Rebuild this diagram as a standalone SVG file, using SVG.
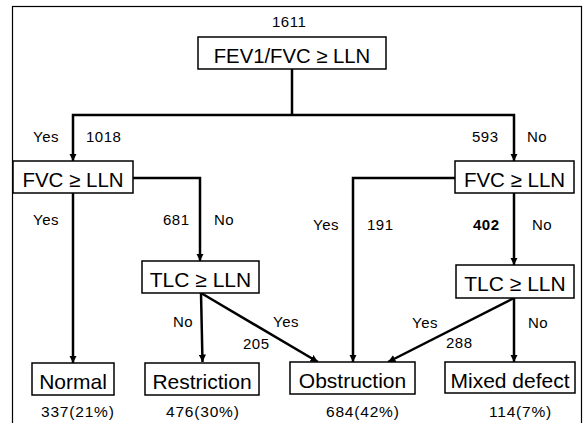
<svg xmlns="http://www.w3.org/2000/svg" width="585" height="423" viewBox="0 0 585 423">
<defs>
<marker id="ah" viewBox="0 0 10 10" refX="10" refY="5" markerWidth="3" markerHeight="3" orient="auto" markerUnits="strokeWidth">
<path d="M0,0 L10,5 L0,10 Z" fill="#000"/>
</marker>
<style>
.box{fill:#fff;stroke:#000;stroke-width:1.5}
.bt{font-family:"Liberation Sans",Arial,sans-serif;font-size:21px;fill:#000;text-anchor:middle}
.lb{font-family:"Liberation Sans",Arial,sans-serif;font-size:15px;letter-spacing:0.5px;fill:#000}
.ct{font-family:"Liberation Sans",Arial,sans-serif;font-size:15.5px;letter-spacing:0.8px;fill:#000}
.ln{fill:none;stroke:#000;stroke-width:2.5}
.ar{fill:none;stroke:#000;stroke-width:2.5;marker-end:url(#ah)}
</style>
</defs>
<rect x="0" y="0" width="585" height="423" fill="#fff"/>
<rect x="12.5" y="6.5" width="569" height="430" fill="none" stroke="#000" stroke-width="1.2"/>
<g id="connectors">
<path class="ln" d="M292,69 V115"/>
<path class="ar" d="M292,115 H73 V161"/>
<path class="ar" d="M292,115 H514 V161"/>
<path class="ar" d="M133,178 H200 V261"/>
<path class="ar" d="M73,193 V363"/>
<path class="ar" d="M455,178 H353 V362"/>
<path class="ar" d="M514,193 V265"/>
<path class="ar" d="M201,293 L202.5,362"/>
<path class="ar" d="M201,293 L318,362"/>
<path class="ar" d="M514,298 L388,362"/>
<path class="ar" d="M514,298 V362"/>
</g>
<g id="root">
<rect class="box" x="198" y="37" width="188" height="32"/>
<text class="bt" x="292" y="63" style="font-size:20.3px">FEV1/FVC ≥ LLN</text>
<text class="lb" x="272" y="27">1611</text>
</g>
<g id="fvc-left">
<rect class="box" x="13" y="161" width="120" height="32"/>
<text class="bt" x="73" y="187" style="font-size:20.5px">FVC ≥ LLN</text>
</g>
<g id="fvc-right">
<rect class="box" x="455" y="161" width="119" height="32"/>
<text class="bt" x="514.5" y="187" style="font-size:20.5px">FVC ≥ LLN</text>
</g>
<g id="tlc-left">
<rect class="box" x="142" y="261" width="117" height="32"/>
<text class="bt" x="200.5" y="287">TLC ≥ LLN</text>
</g>
<g id="tlc-right">
<rect class="box" x="456" y="265" width="118" height="33"/>
<text class="bt" x="515" y="291">TLC ≥ LLN</text>
</g>
<g id="normal">
<rect class="box" x="32" y="363" width="82" height="32"/>
<text class="bt" x="73" y="389">Normal</text>
<text class="ct" x="41" y="417">337(21%)</text>
</g>
<g id="restriction">
<rect class="box" x="145" y="363" width="114" height="32"/>
<text class="bt" x="202" y="389">Restriction</text>
<text class="ct" x="166" y="417">476(30%)</text>
</g>
<g id="obstruction">
<rect class="box" x="290" y="362" width="125" height="32"/>
<text class="bt" x="352.5" y="388">Obstruction</text>
<text class="ct" x="326" y="417">684(42%)</text>
</g>
<g id="mixed">
<rect class="box" x="445" y="362" width="130" height="31"/>
<text class="bt" x="510" y="388">Mixed defect</text>
<text class="ct" x="489" y="417">114(7%)</text>
</g>
<g id="labels">
<text class="lb" x="33" y="142">Yes</text>
<text class="lb" x="86" y="142">1018</text>
<text class="lb" x="472" y="142">593</text>
<text class="lb" x="527" y="142">No</text>
<text class="lb" x="33" y="225">Yes</text>
<text class="lb" x="163" y="225">681</text>
<text class="lb" x="214" y="225">No</text>
<text class="lb" x="313" y="230">Yes</text>
<text class="lb" x="367" y="230">191</text>
<text class="lb" x="473" y="230" font-weight="bold">402</text>
<text class="lb" x="532" y="230">No</text>
<text class="lb" x="173" y="327">No</text>
<text class="lb" x="273" y="327">Yes</text>
<text class="lb" x="243" y="349">205</text>
<text class="lb" x="412" y="328">Yes</text>
<text class="lb" x="446" y="348">288</text>
<text class="lb" x="528" y="328">No</text>
</g>
</svg>
